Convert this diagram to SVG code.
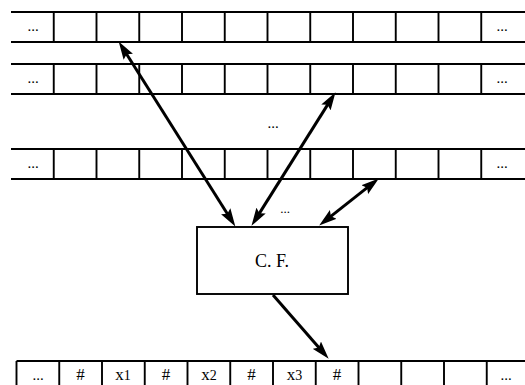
<svg xmlns="http://www.w3.org/2000/svg" width="525" height="385" viewBox="0 0 525 385">
<style>
.g{stroke:#000;stroke-width:1.9;fill:none}
.t{font-family:"Liberation Serif","DejaVu Serif",serif;font-size:17px;fill:#000;text-anchor:middle}
.d{font-family:"Liberation Serif","DejaVu Serif",serif;font-size:15px;fill:#000;text-anchor:middle}
.a{stroke:#000;stroke-width:3;fill:none}
</style>
<defs>
<marker id="ah" viewBox="0 0 18 11" refX="8" refY="5.5" markerWidth="18" markerHeight="11" markerUnits="userSpaceOnUse" orient="auto-start-reverse">
<path d="M0,0 L18,5.5 L0,11 L3,5.5 z" fill="#000"/>
</marker>
</defs>
<rect width="525" height="385" fill="#fff"/>
<g id="tape1">
<path class="g" d="M11,12 H525 M11,42 H525 M53.75,12 V42 M96.5,12 V42 M139.25,12 V42 M182,12 V42 M224.75,12 V42 M267.5,12 V42 M310.25,12 V42 M353,12 V42 M395.75,12 V42 M438.5,12 V42 M481.25,12 V42"/>
<text class="d" x="33" y="31">...</text>
<text class="d" x="502" y="31">...</text>
</g>
<g id="tape2">
<path class="g" d="M11,64 H525 M11,94 H525 M53.75,64 V94 M96.5,64 V94 M139.25,64 V94 M182,64 V94 M224.75,64 V94 M267.5,64 V94 M310.25,64 V94 M353,64 V94 M395.75,64 V94 M438.5,64 V94 M481.25,64 V94"/>
<text class="d" x="33" y="83">...</text>
<text class="d" x="502" y="83">...</text>
</g>
<text class="d" x="273" y="128">...</text>
<g id="tape3">
<path class="g" d="M11,149 H525 M11,179 H525 M53.75,149 V179 M96.5,149 V179 M139.25,149 V179 M182,149 V179 M224.75,149 V179 M267.5,149 V179 M310.25,149 V179 M353,149 V179 M395.75,149 V179 M438.5,149 V179 M481.25,149 V179"/>
<text class="d" x="33" y="168">...</text>
<text class="d" x="502" y="168">...</text>
</g>
<text class="d" x="285" y="213" style="font-size:13px">...</text>
<g id="cf">
<rect class="g" x="197" y="227" width="151" height="67"/>
<text class="t" x="272" y="267" style="font-size:18px">C. F.</text>
</g>
<g id="tape4">
<path class="g" d="M16.5,361 H525 M16.5,385 V361 M59.25,361 V385 M102,361 V385 M144.75,361 V385 M187.5,361 V385 M230.25,361 V385 M273,361 V385 M315.75,361 V385 M358.5,361 V385 M401.25,361 V385 M444,361 V385 M486.75,361 V385"/>
<text class="d" x="38" y="380">...</text>
<text class="t" x="80.5" y="380">#</text>
<text class="t" x="123" y="380">x<tspan style="font-size:14px">1</tspan></text>
<text class="t" x="166" y="380">#</text>
<text class="t" x="209" y="380">x<tspan style="font-size:14px">2</tspan></text>
<text class="t" x="251.5" y="380">#</text>
<text class="t" x="294.5" y="380">x<tspan style="font-size:14px">3</tspan></text>
<text class="t" x="337" y="380">#</text>
<text class="d" x="506" y="380">...</text>
</g>
<g id="connectors">
<path class="a" d="M124,50 L230,218" marker-start="url(#ah)" marker-end="url(#ah)"/>
<path class="a" d="M330.2,100.6 L256.8,217.4" marker-start="url(#ah)" marker-end="url(#ah)"/>
<path class="a" d="M371,184.6 L327,219.4" marker-start="url(#ah)" marker-end="url(#ah)"/>
<path class="a" d="M273,295 L322.1,351.2" marker-end="url(#ah)"/>
</g>
</svg>
